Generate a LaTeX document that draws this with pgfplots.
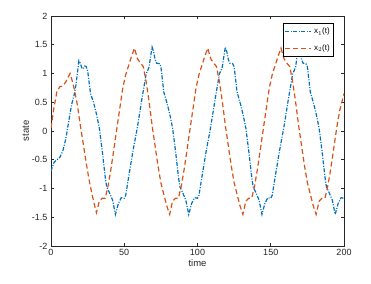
\documentclass[border=0pt]{standalone}
\usepackage{pgfplots}
\pgfplotsset{compat=1.18}
\usepackage{fontspec}
\setmainfont{Liberation Sans}
\definecolor{mblue}{rgb}{0,0.447,0.741}
\definecolor{mred}{rgb}{0.85,0.325,0.098}
\definecolor{axgray}{rgb}{0.15,0.15,0.15}
\begin{document}
\begin{tikzpicture}
\begin{axis}[
  scale only axis, width=293pt, height=230pt,
  xmin=0, xmax=200, ymin=-2, ymax=2,
  xtick={0,50,100,150,200}, ytick={-2,-1.5,...,2},
  /pgf/number format/assume math mode=true,
  tick label style={font=\fontsize{9}{10}\selectfont, text=axgray},
  label style={font=\fontsize{9.5}{11}\selectfont, text=axgray},
  xlabel={time}, ylabel={state},
  xlabel style={yshift=3pt},
  ylabel style={yshift=-4pt},
  axis line style={axgray, line width=0.6pt},
  tick style={axgray, line width=0.6pt},
  major tick length=3pt,
  tick align=inside,
  legend style={at={(0.966,0.970)}, anchor=north east, font=\fontsize{8}{9}\selectfont, draw=black, line width=0.6pt, inner xsep=2pt, inner ysep=3pt, row sep=5pt},
  legend cell align=right,
  legend image code/.code={\draw[#1] (0pt,0pt) -- (26pt,0pt);},
]
\addplot[mblue, line width=1.2pt, dash pattern=on 4pt off 1.5pt on 1pt off 1.5pt] coordinates {
(0,-0.70)(2,-0.55)(4,-0.50)(6,-0.46)(8,-0.35)(10,-0.15)(12,0.15)(14,0.45)(16,0.65)(17,0.80)(18,1.00)(19,1.22)(20,1.18)(21,1.10)(22,1.08)(23,1.13)(24,1.12)(25,1.05)(26,0.85)(27,0.65)(29,0.50)(31,0.30)(33,0.05)(35,-0.35)(37,-0.80)(38,-0.97)(40,-1.08)(42,-1.20)(44,-1.45)
(46,-1.26)(48,-1.16)(50,-1.17)(51,-1.12)(53,-0.80)(56,-0.34)(59,0.07)(62,0.55)(64,0.85)(65,1.00)(66,1.05)(67,1.12)(68,1.30)(69,1.46)(70,1.38)(71,1.25)(72,1.18)(74,1.17)(75,1.12)(76,0.90)(77,0.68)(79,0.50)(81,0.30)(83,0.05)(85,-0.35)(87,-0.80)(88,-0.97)(90,-1.08)(92,-1.20)(94,-1.45)
(96,-1.26)(98,-1.16)(100,-1.17)(101,-1.12)(103,-0.80)(106,-0.34)(109,0.07)(112,0.55)(114,0.85)(115,1.00)(116,1.05)(117,1.12)(118,1.30)(119,1.46)(120,1.38)(121,1.25)(122,1.18)(124,1.17)(125,1.12)(126,0.90)(127,0.68)(129,0.50)(131,0.30)(133,0.05)(135,-0.35)(137,-0.80)(138,-0.97)(140,-1.08)(142,-1.20)(144,-1.45)
(146,-1.26)(148,-1.16)(150,-1.17)(151,-1.12)(153,-0.80)(156,-0.34)(159,0.07)(162,0.55)(164,0.85)(165,1.00)(166,1.05)(167,1.12)(168,1.30)(169,1.46)(170,1.38)(171,1.25)(172,1.18)(174,1.17)(175,1.12)(176,0.90)(177,0.68)(179,0.50)(181,0.30)(183,0.05)(185,-0.35)(187,-0.80)(188,-0.97)(190,-1.08)(192,-1.20)(194,-1.45)
(196,-1.26)(198,-1.16)(200,-1.17)
};
\addlegendentry{x$_1$(t)}
\addplot[mred, line width=1.2pt, dash pattern=on 5pt off 3pt] coordinates {
(0,0.05)(2,0.40)(4,0.68)(6,0.77)(8,0.78)(10,0.85)(12,0.95)(13,1.00)(14,0.92)(16,0.72)(18,0.45)(20,0.10)(22,-0.22)(24,-0.55)(26,-0.85)(28,-1.10)(30,-1.32)(31,-1.42)
(33,-1.22)(35,-1.17)(37,-1.17)(39,-0.95)(41,-0.65)(43,-0.30)(45,0.05)(47,0.40)(49,0.75)(51,0.98)(53,1.14)(55,1.30)(57,1.44)(59,1.26)(61,1.18)(63,1.12)(65,0.85)(67,0.50)(69,0.10)(71,-0.25)(73,-0.60)(75,-0.90)(77,-1.10)(79,-1.30)(81,-1.45)
(83,-1.22)(85,-1.17)(87,-1.17)(89,-0.95)(91,-0.65)(93,-0.30)(95,0.05)(97,0.40)(99,0.75)(101,0.98)(103,1.14)(105,1.30)(107,1.44)(109,1.26)(111,1.18)(113,1.12)(115,0.85)(117,0.50)(119,0.10)(121,-0.25)(123,-0.60)(125,-0.90)(127,-1.10)(129,-1.30)(131,-1.45)
(133,-1.22)(135,-1.17)(137,-1.17)(139,-0.95)(141,-0.65)(143,-0.30)(145,0.05)(147,0.40)(149,0.75)(151,0.98)(153,1.14)(155,1.30)(157,1.44)(159,1.26)(161,1.18)(163,1.12)(165,0.85)(167,0.50)(169,0.10)(171,-0.25)(173,-0.60)(175,-0.90)(177,-1.10)(179,-1.30)(181,-1.45)
(183,-1.22)(185,-1.17)(187,-1.17)(189,-0.95)(191,-0.65)(193,-0.30)(195,0.05)(197,0.35)(200,0.65)
};
\addlegendentry{x$_2$(t)}
\coordinate (bl) at (rel axis cs:0,0);
\coordinate (tr) at (rel axis cs:1,1);
\end{axis}
\pgfresetboundingbox
\path[use as bounding box] ([shift={(-51pt,-37pt)}]bl) rectangle ([shift={(27pt,16pt)}]tr);
\end{tikzpicture}
\end{document}
